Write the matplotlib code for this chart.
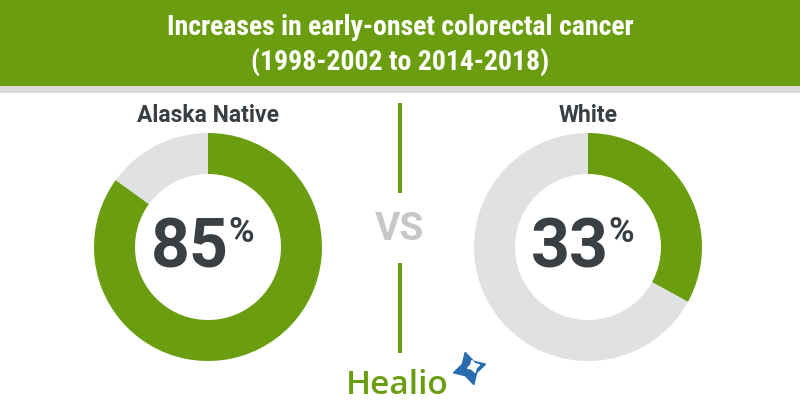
import matplotlib.pyplot as plt
from matplotlib.patches import Rectangle

# datos
grupos = ['Alaska Native', 'White']
aumentos = [85, 33]
titulo = 'Increases in early-onset colorectal cancer\n(1998-2002 to 2014-2018)'

VERDE = '#6A9E10'
GRIS = '#E0E1E3'
OSCURO = '#3A3F44'
W, H = 800, 420

fig = plt.figure(figsize=(8, 4.2), dpi=100)
ax = fig.add_axes([0, 0, 1, 1])

def y(v):
    # coordenadas tipo imagen (y hacia abajo)
    return H - v

centros_x = [208, 588]
for cx, nombre, pct in zip(centros_x, grupos, aumentos):
    ax.pie([pct, 100 - pct], colors=[VERDE, GRIS], startangle=90,
           counterclock=False, center=(cx, y(247)), radius=114,
           wedgeprops=dict(width=41, linewidth=0))
    ax.text(cx, y(116), nombre, ha='center', va='center', fontsize=16.5,
            fontweight='bold', color=OSCURO, family='Roboto')
    ax.text(cx + 21, y(249), f'{pct}', ha='right', va='center', fontsize=49,
            fontweight='bold', color=OSCURO, family='Roboto')
    ax.text(cx + 20, y(233), '%', ha='left', va='center', fontsize=25,
            fontweight='bold', color=OSCURO, family='Roboto')

# cabecera
ax.add_patch(Rectangle((0, y(86)), W, 86, color=VERDE, lw=0, zorder=0))
ax.add_patch(Rectangle((0, y(93)), W, 7, color='#DCDCDC', lw=0, zorder=0))
ax.text(W / 2, y(45), titulo, ha='center', va='center', fontsize=20,
        fontweight='bold', color='white', linespacing=1.3,
        family=['Roboto Condensed', 'DejaVu Sans'], fontstretch='condensed')

# separador VS
ax.plot([400, 400], [y(103), y(193)], color=VERDE, lw=3, solid_capstyle='butt')
ax.plot([400, 400], [y(263), y(353)], color=VERDE, lw=3, solid_capstyle='butt')
ax.text(400, y(230), 'VS', ha='center', va='center', fontsize=28,
        fontweight='bold', color='#C6C7C9', family='Roboto')

# logo
ax.text(397, y(385), 'Healio', ha='center', va='center', fontsize=24,
        color=VERDE, family='Open Sans', fontweight='semibold')
ax.plot([469], [y(368)], marker=(4, 1, 15), markersize=24, color='#2B6CB0')
ax.plot([473], [y(366)], marker=(4, 1, 15), markersize=9, color='white')

ax.set_xlim(0, W)
ax.set_ylim(0, H)
ax.set_aspect('auto')
ax.axis('off')
fig.savefig('out.png', dpi=100, facecolor='white')
